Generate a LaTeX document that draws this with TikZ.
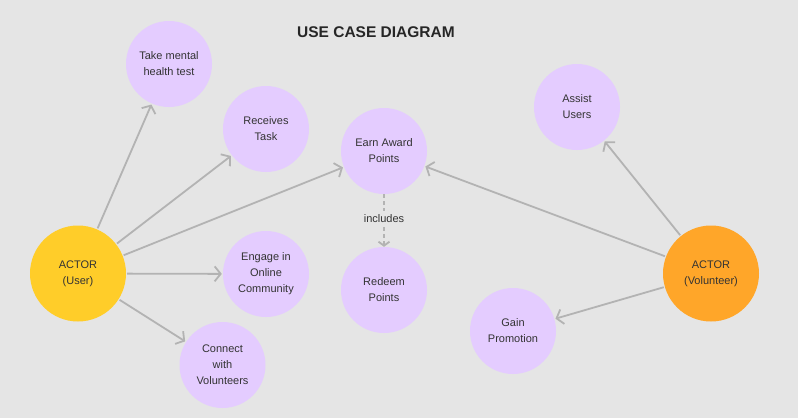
\documentclass[tikz,border=0pt]{standalone}
\usepackage{fontspec}
\setmainfont{Liberation Sans}
\usetikzlibrary{arrows.meta}
\definecolor{bg}{HTML}{E5E5E5}
\definecolor{uc}{HTML}{E4CCFF}
\definecolor{actU}{HTML}{FFCD29}
\definecolor{actV}{HTML}{FFA629}
\definecolor{edge}{HTML}{B3B3B3}
\definecolor{txt}{HTML}{333333}
\begin{document}
\begin{tikzpicture}[x=1pt,y=-1pt,
  usecase/.style={circle,fill=uc,draw=none,minimum size=86pt,inner sep=0pt,align=center,text=txt,font=\fontsize{11}{16}\selectfont},
  actor/.style={circle,draw=none,minimum size=96pt,inner sep=0pt,align=center,text=txt,font=\fontsize{11}{16}\selectfont},
  assoc/.style={draw=edge,line width=1.8pt,-{Straight Barb[length=6pt,width=15pt]},shorten <=1pt,shorten >=1pt},
  incl/.style={draw=edge,line width=1.8pt,dash pattern=on 4pt off 3pt}
]
\fill[bg] (0,0) rectangle (798,418);
\useasboundingbox (0,0) rectangle (798,418);

\node[font=\fontsize{15.5}{18}\selectfont\bfseries,text=black!85] (title) at (376,32) {USE CASE DIAGRAM};

\node[usecase] (take) at (169,64) {Take mental\\health test};
\node[usecase] (rec) at (266,129) {Receives\\Task};
\node[usecase] (earn) at (384,151) {Earn Award\\Points};
\node[usecase] (assist) at (577,107) {Assist\\Users};
\node[usecase] (engage) at (266,274) {Engage in\\Online\\Community};
\node[usecase] (connect) at (222.5,365) {Connect\\with\\Volunteers};
\node[usecase] (redeem) at (384,290) {Redeem\\Points};
\node[usecase] (gain) at (513,331) {Gain\\Promotion};

\node[actor,fill=actU] (user) at (78,273.5) {ACTOR\\(User)};
\node[actor,fill=actV] (vol) at (711,273.5) {ACTOR\\(Volunteer)};

\node[text=txt,font=\fontsize{11}{13}\selectfont,inner xsep=2pt,inner ysep=4pt] (inc) at (384,219) {includes};

\draw[assoc] (user) -- (take);
\draw[assoc] (user) -- (rec);
\draw[assoc] (user) -- (earn);
\draw[assoc] (user) -- (engage);
\draw[assoc] (user) -- (connect);
\draw[assoc] (vol) -- (earn);
\draw[assoc] (vol) -- (assist);
\draw[assoc] (vol) -- (gain);

\draw[incl] (earn.south) -- (inc.north);
\draw[incl,-{Straight Barb[length=4pt,width=11pt]}] (inc.south) -- (redeem.north);
\end{tikzpicture}
\end{document}
